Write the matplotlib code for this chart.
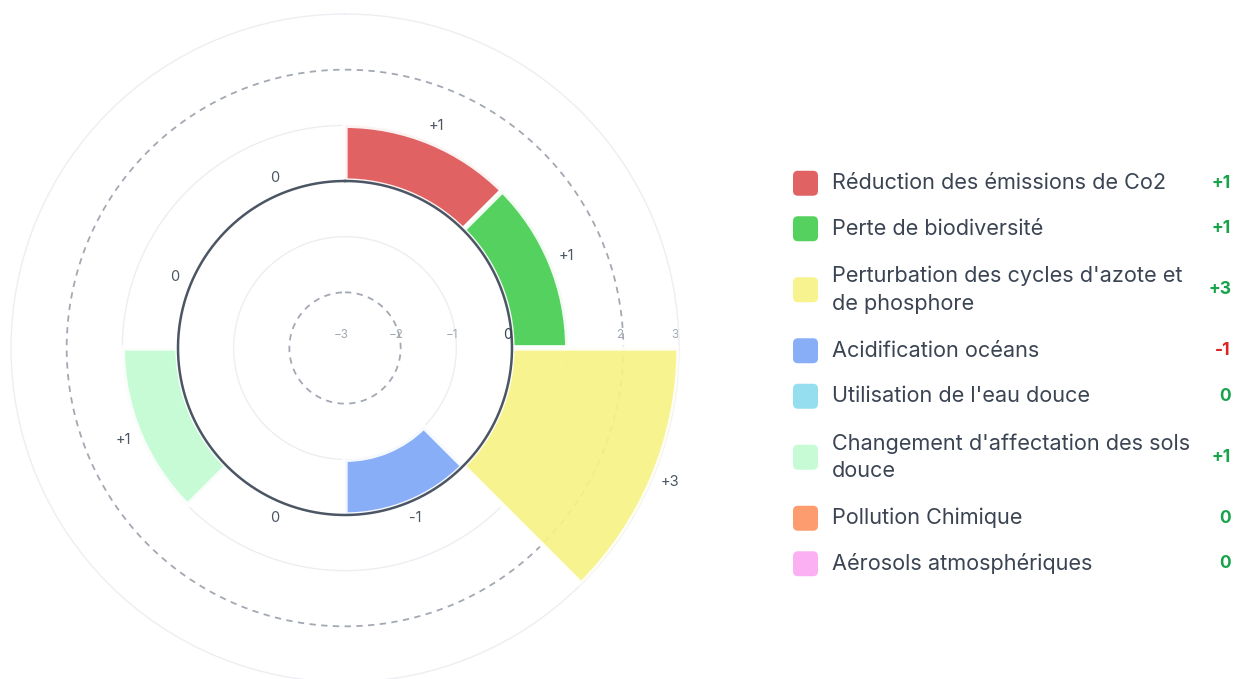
import numpy as np
import matplotlib.pyplot as plt
from matplotlib.patches import FancyBboxPatch
from matplotlib.transforms import offset_copy

plt.rcParams['font.family'] = ['Inter', 'DejaVu Sans']

# données
categories = [
    "Réduction des émissions de Co2",
    "Perte de biodiversité",
    "Perturbation des cycles d'azote et\nde phosphore",
    "Acidification océans",
    "Utilisation de l'eau douce",
    "Changement d'affectation des sols\ndouce",
    "Pollution Chimique",
    "Aérosols atmosphériques",
]
values = [1, 1, 3, -1, 0, 1, 0, 0]
colors = ['#de5555', '#45cd50', '#f7f385', '#7ea7f7', '#8bdcee',
          '#c3fbd2', '#fd9463', '#fbaaf4']
r_ticks = [-3, -2, -1, 0, 1, 2, 3]

W, H = 1235, 679
fig = plt.figure(figsize=(W / 100, H / 100), dpi=100)

# polar chart
cx, cy, R = 345, 348, 334
ax = fig.add_axes([(cx - R) / W, (H - cy - R) / H, 2 * R / W, 2 * R / H],
                  projection='polar')
ax.set_theta_zero_location('N')
ax.set_theta_direction(-1)
ax.set_ylim(-3, 3)
ax.grid(False)
ax.set_xticks([])
ax.set_yticks([])
ax.spines['polar'].set_color('#eceef2')
ax.spines['polar'].set_linewidth(1)

th = np.linspace(0, 2 * np.pi, 500)
for r in r_ticks[1:-1]:
    if r == 0:
        continue
    if r in (-2, 2):
        ax.plot(th, np.full_like(th, r), color='#a3a9b3', lw=1.3,
                ls=(0, (3.5, 3)), zorder=1)
    else:
        ax.plot(th, np.full_like(th, r), color='#eceef2', lw=1, zorder=1)

n = len(values)
theta = np.deg2rad(22.5 + 45 * np.arange(n))
ax.bar(theta, values, width=np.deg2rad(45), bottom=0, color=colors,
       edgecolor='white', linewidth=3.8, alpha=0.92, zorder=3)

# cercle du zéro
ax.plot(th, np.zeros_like(th), color='#4b5563', lw=1.8, zorder=5)

# étiquettes de l'axe radial
tr = offset_copy(ax.transData, fig=fig, x=-4, y=13, units='dots')
for r in r_ticks:
    txt = str(r).replace('-', '\u2212')
    if r == 0:
        ax.text(np.pi / 2, r, txt, transform=tr, ha='center', va='center',
                fontsize=10, color='#374151', zorder=6)
    else:
        ax.text(np.pi / 2, r, txt, transform=tr, ha='center', va='center',
                fontsize=8.5, color='#a3a9b3', zorder=2)

# valeurs sur les barres
for t, v in zip(theta, values):
    lab = f"{v:+d}" if v != 0 else "0"
    ax.text(t, max(v, 0) + 0.31, lab, ha='center', va='center',
            fontsize=10.5, color='#4b5563', clip_on=False, zorder=6)

# légende
lg = fig.add_axes([0, 0, 1, 1])
lg.set_xlim(0, W)
lg.set_ylim(H, 0)
lg.axis('off')
y = 160.5
for lab, v, c in zip(categories, values, colors):
    h = 45.5 + 31 * lab.count('\n')
    yc = y + h / 2
    lg.add_patch(FancyBboxPatch((793, yc - 12.5), 25, 25,
                                boxstyle='round,pad=0,rounding_size=5',
                                facecolor=c, edgecolor='none', alpha=0.92))
    lg.text(832, yc, lab, ha='left', va='center', fontsize=15.6,
            color='#3b4453', linespacing=1.45)
    vc = '#dc2626' if v < 0 else '#16a34a'
    lg.text(1231, yc, f"{v:+d}" if v != 0 else "0", ha='right', va='center',
            fontsize=12.5, fontweight='bold', color=vc)
    y += h

fig.savefig('out.png', dpi=100)
